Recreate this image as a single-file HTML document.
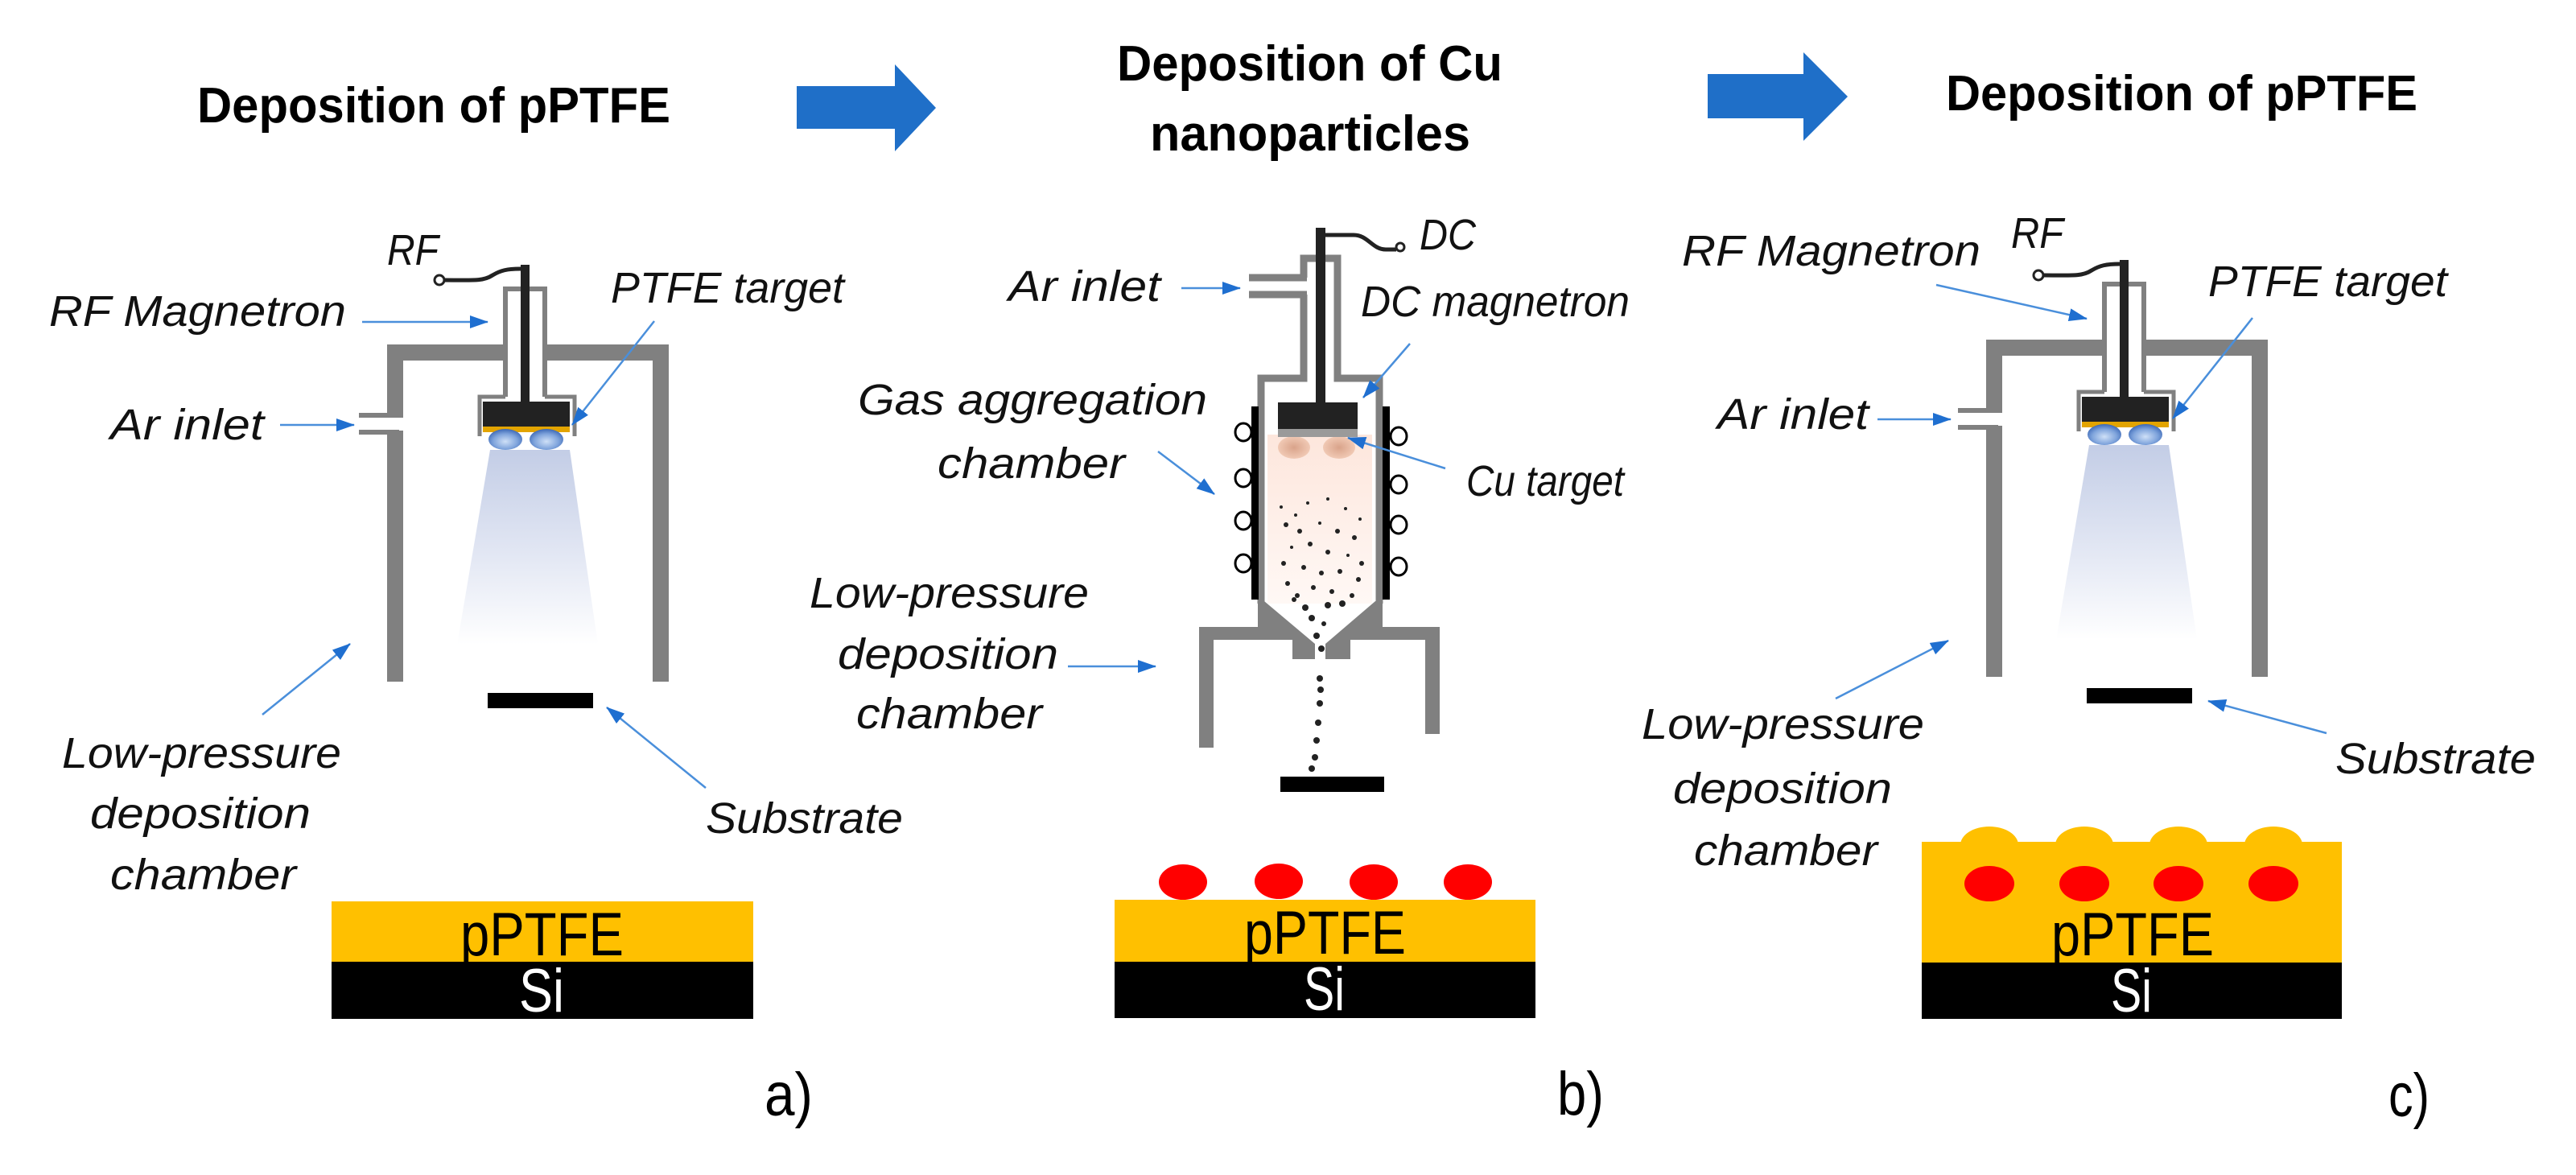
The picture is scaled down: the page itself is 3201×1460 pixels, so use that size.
<!DOCTYPE html>
<html><head><meta charset="utf-8"><style>
html,body{margin:0;padding:0;background:#fff;}
svg{display:block;}
.l{font-family:"Liberation Sans",sans-serif;font-style:italic;font-size:54px;fill:#111;}
.t{font-family:"Liberation Sans",sans-serif;font-weight:bold;font-size:62px;fill:#000;}
.p{font-family:"Liberation Sans",sans-serif;font-size:76px;}
</style></head><body>
<svg width="3201" height="1460" viewBox="0 0 3201 1460" xmlns="http://www.w3.org/2000/svg">
<defs>
<marker id="ah" markerUnits="userSpaceOnUse" markerWidth="24" markerHeight="18" refX="22" refY="8" orient="auto">
<path d="M0,0 L23,8 L0,16 z" fill="#1f6fd0"/></marker>
<linearGradient id="plume" x1="0" y1="0" x2="0" y2="1">
<stop offset="0" stop-color="#c3cde6"/><stop offset="0.6" stop-color="#e6eaf5"/><stop offset="1" stop-color="#ffffff"/></linearGradient>
<radialGradient id="blob" cx="0.5" cy="0.6" r="0.6">
<stop offset="0" stop-color="#cfe0f7"/><stop offset="0.6" stop-color="#7fa4dc"/><stop offset="1" stop-color="#3b67b5"/></radialGradient>
<radialGradient id="cub" cx="0.5" cy="0.5" r="0.55">
<stop offset="0" stop-color="#d9a38a"/><stop offset="1" stop-color="#f3cdb9"/></radialGradient>
<linearGradient id="haze" x1="0" y1="0" x2="0" y2="1">
<stop offset="0" stop-color="#fde6dc"/><stop offset="1" stop-color="#fff8f5"/></linearGradient>
<g id="ch">
  <polygon points="609,559 708,559 743,801 568,801" fill="url(#plume)"/>
  <path d="M491,847 V438 H821 V847" fill="none" stroke="#808080" stroke-width="20"/>
  <rect x="631" y="420" width="43" height="40" fill="#fff"/>
  <rect x="478" y="519" width="26" height="16" fill="#fff"/>
  <line x1="446" y1="516" x2="496" y2="516" stroke="#808080" stroke-width="6"/>
  <line x1="446" y1="537" x2="496" y2="537" stroke="#808080" stroke-width="6"/>
  <path d="M628,493 V359 H677 V493" fill="none" stroke="#808080" stroke-width="6"/>
  <path d="M628,493 H596 V542 M677,493 H714 V542" fill="none" stroke="#808080" stroke-width="5"/>
  <rect x="647" y="329" width="11" height="175" fill="#222"/>
  <rect x="600" y="499" width="108" height="31" fill="#222"/>
  <rect x="600" y="530" width="108" height="7" fill="#e3a400"/>
  <ellipse cx="628" cy="546" rx="21" ry="13" fill="url(#blob)"/>
  <ellipse cx="679" cy="546" rx="21" ry="13" fill="url(#blob)"/>
  <path d="M647,334 C630,334 622,336 612,342 C600,350 585,348 552,348" fill="none" stroke="#222" stroke-width="5"/>
  <circle cx="546" cy="348" r="6" fill="#fff" stroke="#222" stroke-width="3"/>
  <rect x="606" y="861" width="131" height="19" fill="#000"/>
</g>
</defs>

<text class="t" x="245" y="152" textLength="588" lengthAdjust="spacingAndGlyphs">Deposition of pPTFE</text>
<text class="t" x="1388" y="100" textLength="479" lengthAdjust="spacingAndGlyphs">Deposition of Cu</text>
<text class="t" x="1429" y="187" textLength="398" lengthAdjust="spacingAndGlyphs">nanoparticles</text>
<text class="t" x="2418" y="137" textLength="586" lengthAdjust="spacingAndGlyphs">Deposition of pPTFE</text>
<polygon points="990,107 1112,107 1112,80 1163,134 1112,188 1112,160 990,160" fill="#1f6fc8"/>
<polygon points="2122,92 2241,92 2241,65 2296,120 2241,175 2241,147 2122,147" fill="#1f6fc8"/>

<!-- Panel a -->
<use href="#ch"/>
<text class="l" x="481" y="329" textLength="64" lengthAdjust="spacingAndGlyphs">RF</text>
<text class="l" x="61" y="405" textLength="369" lengthAdjust="spacingAndGlyphs">RF Magnetron</text>
<text class="l" x="759" y="376" textLength="290" lengthAdjust="spacingAndGlyphs">PTFE target</text>
<text class="l" x="137" y="546" textLength="191" lengthAdjust="spacingAndGlyphs">Ar inlet</text>
<text class="l" x="77" y="954" textLength="347" lengthAdjust="spacingAndGlyphs">Low-pressure</text>
<text class="l" x="112" y="1029" textLength="274" lengthAdjust="spacingAndGlyphs">deposition</text>
<text class="l" x="137" y="1105" textLength="231" lengthAdjust="spacingAndGlyphs">chamber</text>
<text class="l" x="877" y="1035" textLength="245" lengthAdjust="spacingAndGlyphs">Substrate</text>
<g stroke="#4a8fdb" stroke-width="2.5" fill="none" marker-end="url(#ah)">
<line x1="450" y1="400" x2="606" y2="400"/>
<line x1="813" y1="399" x2="711" y2="528"/>
<line x1="348" y1="528" x2="440" y2="528"/>
<line x1="326" y1="888" x2="435" y2="800"/>
<line x1="877" y1="979" x2="754" y2="879"/>
</g>
<rect x="412" y="1120" width="524" height="76" fill="#ffc000"/>
<rect x="412" y="1195" width="524" height="71" fill="#000"/>
<text class="p" x="572" y="1187" textLength="203" lengthAdjust="spacingAndGlyphs" fill="#000">pPTFE</text>
<text class="p" x="645" y="1257" textLength="56" lengthAdjust="spacingAndGlyphs" fill="#fff">Si</text>
<text class="p" x="950" y="1386" font-size="70" textLength="60" lengthAdjust="spacingAndGlyphs" fill="#000">a)</text>

<!-- Panel b -->
<rect x="1575" y="540" width="130" height="210" fill="url(#haze)"/>
<ellipse cx="1608" cy="556" rx="20" ry="14" fill="url(#cub)"/>
<ellipse cx="1664" cy="556" rx="20" ry="14" fill="url(#cub)"/>
<g fill="none" stroke="#808080" stroke-width="9">
<path d="M1620,345 V321 H1662 V470 H1714 V750"/>
<path d="M1620,366 V470 H1567 V750"/>
<line x1="1552" y1="345" x2="1624" y2="345"/>
<line x1="1552" y1="366" x2="1624" y2="366"/>
</g>
<polygon fill="#808080" points="1563,747 1571,747 1634,800 1634,819 1606,819 1606,795 1508,795 1508,929 1490,929 1490,779 1563,779"/>
<polygon fill="#808080" points="1718,747 1709,747 1647,800 1647,819 1678,819 1678,795 1771,795 1771,912 1789,912 1789,779 1718,779"/>
<rect x="1555" y="505" width="9" height="240" fill="#000"/>
<rect x="1718" y="505" width="9" height="240" fill="#000"/>
<g fill="#fff" stroke="#000" stroke-width="3">
<ellipse cx="1545" cy="537" rx="10" ry="11"/><ellipse cx="1545" cy="594" rx="10" ry="11"/>
<ellipse cx="1545" cy="647" rx="10" ry="11"/><ellipse cx="1545" cy="700" rx="10" ry="11"/>
<ellipse cx="1738" cy="542" rx="10" ry="11"/><ellipse cx="1738" cy="602" rx="10" ry="11"/>
<ellipse cx="1738" cy="652" rx="10" ry="11"/><ellipse cx="1738" cy="704" rx="10" ry="11"/>
</g>
<rect x="1635" y="283" width="12" height="220" fill="#222"/>
<rect x="1588" y="500" width="99" height="34" fill="#222"/>
<rect x="1588" y="533" width="99" height="10" fill="#9a9a9a"/>
<path d="M1647,292 H1682 C1700,292 1705,310 1722,310 H1735" fill="none" stroke="#222" stroke-width="5"/>
<circle cx="1740" cy="307" r="5" fill="#fff" stroke="#222" stroke-width="3"/>
<g fill="#222">
<circle cx="1592" cy="630" r="2"/><circle cx="1610" cy="640" r="2"/><circle cx="1625" cy="625" r="2"/><circle cx="1650" cy="620" r="2"/>
<circle cx="1672" cy="632" r="2"/><circle cx="1690" cy="645" r="2"/><circle cx="1598" cy="652" r="3"/><circle cx="1615" cy="660" r="3"/>
<circle cx="1640" cy="650" r="2"/><circle cx="1662" cy="660" r="3"/><circle cx="1683" cy="668" r="3"/><circle cx="1605" cy="680" r="2"/>
<circle cx="1628" cy="676" r="3"/><circle cx="1650" cy="686" r="3"/><circle cx="1675" cy="690" r="2"/><circle cx="1692" cy="700" r="3"/>
<circle cx="1595" cy="700" r="3"/><circle cx="1620" cy="705" r="3"/><circle cx="1642" cy="712" r="3"/><circle cx="1665" cy="710" r="3"/>
<circle cx="1688" cy="720" r="3"/><circle cx="1600" cy="725" r="3"/><circle cx="1612" cy="740" r="3"/><circle cx="1632" cy="730" r="3"/>
<circle cx="1655" cy="735" r="3"/><circle cx="1680" cy="740" r="3"/><circle cx="1608" cy="745" r="3"/><circle cx="1622" cy="755" r="4"/>
<circle cx="1650" cy="752" r="4"/><circle cx="1668" cy="750" r="4"/><circle cx="1630" cy="768" r="4"/><circle cx="1645" cy="775" r="3"/>
<circle cx="1636" cy="790" r="4"/><circle cx="1642" cy="806" r="4"/><circle cx="1640" cy="843" r="4"/><circle cx="1641" cy="857" r="4"/>
<circle cx="1640" cy="874" r="4"/><circle cx="1638" cy="898" r="4"/><circle cx="1636" cy="920" r="4"/><circle cx="1634" cy="941" r="4"/><circle cx="1630" cy="955" r="4"/>
</g>
<rect x="1591" y="965" width="129" height="19" fill="#000"/>
<text class="l" x="1764" y="310" textLength="70" lengthAdjust="spacingAndGlyphs">DC</text>
<text class="l" x="1253" y="374" textLength="189" lengthAdjust="spacingAndGlyphs">Ar inlet</text>
<text class="l" x="1691" y="393" textLength="334" lengthAdjust="spacingAndGlyphs">DC magnetron</text>
<text class="l" x="1066" y="515" textLength="434" lengthAdjust="spacingAndGlyphs">Gas aggregation</text>
<text class="l" x="1165" y="594" textLength="233" lengthAdjust="spacingAndGlyphs">chamber</text>
<text class="l" x="1822" y="616" textLength="196" lengthAdjust="spacingAndGlyphs">Cu target</text>
<text class="l" x="1006" y="755" textLength="347" lengthAdjust="spacingAndGlyphs">Low-pressure</text>
<text class="l" x="1041" y="831" textLength="274" lengthAdjust="spacingAndGlyphs">deposition</text>
<text class="l" x="1064" y="905" textLength="231" lengthAdjust="spacingAndGlyphs">chamber</text>
<g stroke="#4a8fdb" stroke-width="2.5" fill="none" marker-end="url(#ah)">
<line x1="1468" y1="358" x2="1541" y2="358"/>
<line x1="1752" y1="427" x2="1694" y2="494"/>
<line x1="1439" y1="561" x2="1509" y2="614"/>
<line x1="1796" y1="582" x2="1675" y2="544"/>
<line x1="1327" y1="828" x2="1436" y2="828"/>
</g>
<rect x="1385" y="1118" width="523" height="78" fill="#ffc000"/>
<rect x="1385" y="1195" width="523" height="70" fill="#000"/>
<g fill="#ff0000">
<ellipse cx="1470" cy="1096" rx="30" ry="22"/><ellipse cx="1589" cy="1095" rx="30" ry="22"/>
<ellipse cx="1707" cy="1096" rx="30" ry="22"/><ellipse cx="1824" cy="1096" rx="30" ry="22"/>
</g>
<text class="p" x="1546" y="1185" textLength="201" lengthAdjust="spacingAndGlyphs" fill="#000">pPTFE</text>
<text class="p" x="1620" y="1255" textLength="51" lengthAdjust="spacingAndGlyphs" fill="#fff">Si</text>
<text class="p" x="1935" y="1385" font-size="70" textLength="58" lengthAdjust="spacingAndGlyphs" fill="#000">b)</text>

<!-- Panel c -->
<use href="#ch" transform="translate(1987,-6)"/>
<text class="l" x="2499" y="308" textLength="65" lengthAdjust="spacingAndGlyphs">RF</text>
<text class="l" x="2090" y="330" textLength="371" lengthAdjust="spacingAndGlyphs">RF Magnetron</text>
<text class="l" x="2744" y="368" textLength="297" lengthAdjust="spacingAndGlyphs">PTFE target</text>
<text class="l" x="2134" y="533" textLength="188" lengthAdjust="spacingAndGlyphs">Ar inlet</text>
<text class="l" x="2040" y="918" textLength="351" lengthAdjust="spacingAndGlyphs">Low-pressure</text>
<text class="l" x="2079" y="998" textLength="272" lengthAdjust="spacingAndGlyphs">deposition</text>
<text class="l" x="2105" y="1075" textLength="228" lengthAdjust="spacingAndGlyphs">chamber</text>
<text class="l" x="2902" y="961" textLength="249" lengthAdjust="spacingAndGlyphs">Substrate</text>
<g stroke="#4a8fdb" stroke-width="2.5" fill="none" marker-end="url(#ah)">
<line x1="2406" y1="354" x2="2593" y2="396"/>
<line x1="2799" y1="395" x2="2700" y2="520"/>
<line x1="2333" y1="521" x2="2424" y2="521"/>
<line x1="2281" y1="868" x2="2421" y2="796"/>
<line x1="2891" y1="911" x2="2744" y2="871"/>
</g>
<g fill="#ffc000">
<rect x="2388" y="1046" width="522" height="151"/>
<ellipse cx="2472" cy="1050" rx="36" ry="23"/><ellipse cx="2590" cy="1050" rx="36" ry="23"/>
<ellipse cx="2707" cy="1050" rx="36" ry="23"/><ellipse cx="2825" cy="1050" rx="36" ry="23"/>
</g>
<rect x="2388" y="1196" width="522" height="70" fill="#000"/>
<g fill="#ff0000">
<ellipse cx="2472" cy="1098" rx="31" ry="22"/><ellipse cx="2590" cy="1098" rx="31" ry="22"/>
<ellipse cx="2707" cy="1098" rx="31" ry="22"/><ellipse cx="2825" cy="1098" rx="31" ry="22"/>
</g>
<text class="p" x="2549" y="1187" textLength="202" lengthAdjust="spacingAndGlyphs" fill="#000">pPTFE</text>
<text class="p" x="2623" y="1257" textLength="51" lengthAdjust="spacingAndGlyphs" fill="#fff">Si</text>
<text class="p" x="2968" y="1387" font-size="70" textLength="51" lengthAdjust="spacingAndGlyphs" fill="#000">c)</text>
</svg>
</body></html>
